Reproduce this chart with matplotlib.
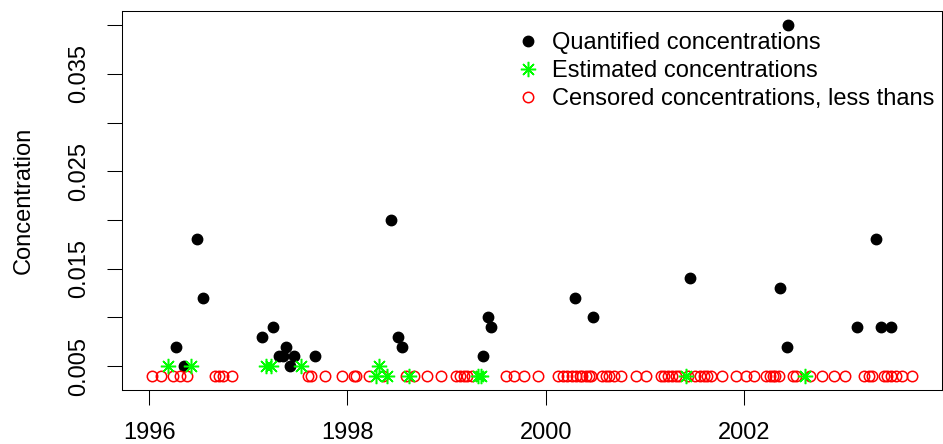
import numpy as np
import matplotlib
matplotlib.use("Agg")
from matplotlib import pyplot as plt

plt.rcParams['font.family'] = ['Liberation Sans', 'DejaVu Sans']

# quantified concentrations (decimal year, concentration)
q_year = [1996.27, 1996.35, 1996.48, 1996.54, 1997.14, 1997.25, 1997.31, 1997.35,
          1997.38, 1997.42, 1997.46, 1997.67, 1998.44, 1998.51, 1998.55, 1999.37,
          1999.42, 1999.45, 2000.30, 2000.48, 2001.45, 2002.36, 2002.43, 2002.44,
          2003.14, 2003.33, 2003.38, 2003.48]
q_conc = [0.007, 0.005, 0.018, 0.012, 0.008, 0.009, 0.006, 0.006,
          0.007, 0.005, 0.006, 0.006, 0.020, 0.008, 0.007, 0.006,
          0.010, 0.009, 0.012, 0.010, 0.014, 0.013, 0.007, 0.040,
          0.009, 0.018, 0.009, 0.009]

# estimated concentrations
e_year = [1996.19, 1996.42, 1997.18, 1997.23, 1997.53, 1998.29, 1998.32, 1998.40,
          1998.62, 1999.32, 1999.35, 2001.41, 2002.61]
e_conc = [0.005, 0.005, 0.005, 0.005, 0.005, 0.004, 0.005, 0.004,
          0.004, 0.004, 0.004, 0.004, 0.004]

# censored (less thans), all at the reporting limit
c_year = [1996.03, 1996.12, 1996.24, 1996.31, 1996.38, 1996.66, 1996.70, 1996.75,
          1996.84, 1997.60, 1997.63, 1997.77, 1997.95, 1998.07, 1998.09, 1998.22,
          1998.36, 1998.59, 1998.67, 1998.80, 1998.94, 1999.10, 1999.14, 1999.18,
          1999.21, 1999.26, 1999.60, 1999.68, 1999.78, 1999.92, 2000.12, 2000.17,
          2000.21, 2000.26, 2000.31, 2000.35, 2000.37, 2000.41, 2000.44, 2000.46,
          2000.57, 2000.61, 2000.64, 2000.69, 2000.76, 2000.91, 2001.01, 2001.16,
          2001.19, 2001.23, 2001.27, 2001.31, 2001.34, 2001.43, 2001.51, 2001.56,
          2001.60, 2001.63, 2001.67, 2001.78, 2001.92, 2002.02, 2002.10, 2002.22,
          2002.26, 2002.29, 2002.31, 2002.35, 2002.49, 2002.52, 2002.67, 2002.79,
          2002.91, 2003.02, 2003.21, 2003.26, 2003.29, 2003.41, 2003.44, 2003.48,
          2003.53, 2003.59, 2003.69]
c_conc = [0.004] * len(c_year)

x_ticks = [1996, 1998, 2000, 2002]
y_ticks = [0.005, 0.010, 0.015, 0.020, 0.025, 0.030, 0.035, 0.040]
y_labels = ['0.005', '', '0.015', '', '0.025', '', '0.035', '']

fs = 17
fig = plt.figure(figsize=(9.43, 4.44), dpi=100)
ax = fig.add_axes([121.7/943, 54/444, (942-121.7)/943, (390-11)/444])

ax.plot(q_year, q_conc, 'o', color='black', ms=7.5, mec='black',
        label='Quantified concentrations')
ax.plot(c_year, c_conc, 'o', mfc='none', mec='#ff0000', mew=1.1, ms=7.5,
        label='Censored concentrations, less thans')
ax.plot(e_year, e_conc, ls='none', marker=(8, 2, 0), color='#00ff00', mew=1.1, ms=11,
        label='Estimated concentrations')

# R style 4% padding
allx = q_year + e_year + c_year
ally = q_conc + e_conc + c_conc
dx = (max(allx) - min(allx)) * 0.04
dy = (max(ally) - min(ally)) * 0.04
ax.set_xlim(min(allx) - dx, max(allx) + dx)
ax.set_ylim(min(ally) - dy, max(ally) + dy)

ax.set_xticks(x_ticks)
ax.set_xticklabels([str(v) for v in x_ticks])
ax.set_yticks(y_ticks)
ax.set_yticklabels(y_labels)
ax.tick_params(direction='out', length=10.8, width=0.75, labelsize=fs)
ax.tick_params(axis='x', pad=12)
ax.tick_params(axis='y', pad=12)
for lab in ax.get_yticklabels():
    lab.set_rotation(90)
    lab.set_va('center')
for sp in ax.spines.values():
    sp.set_linewidth(0.75)

ax.set_ylabel('Concentration', fontsize=fs)
ax.yaxis.set_label_coords(-0.106, 0.5)

h, l = ax.get_legend_handles_labels()
order = [0, 2, 1]
ax.legend([h[i] for i in order], [l[i] for i in order], loc='upper left',
          bbox_to_anchor=(0.453, 1.003), frameon=False, fontsize=fs, numpoints=1,
          handlelength=1.0, handletextpad=0.55, labelspacing=0.25, borderpad=0.45)

fig.savefig('out.png', dpi=100)
